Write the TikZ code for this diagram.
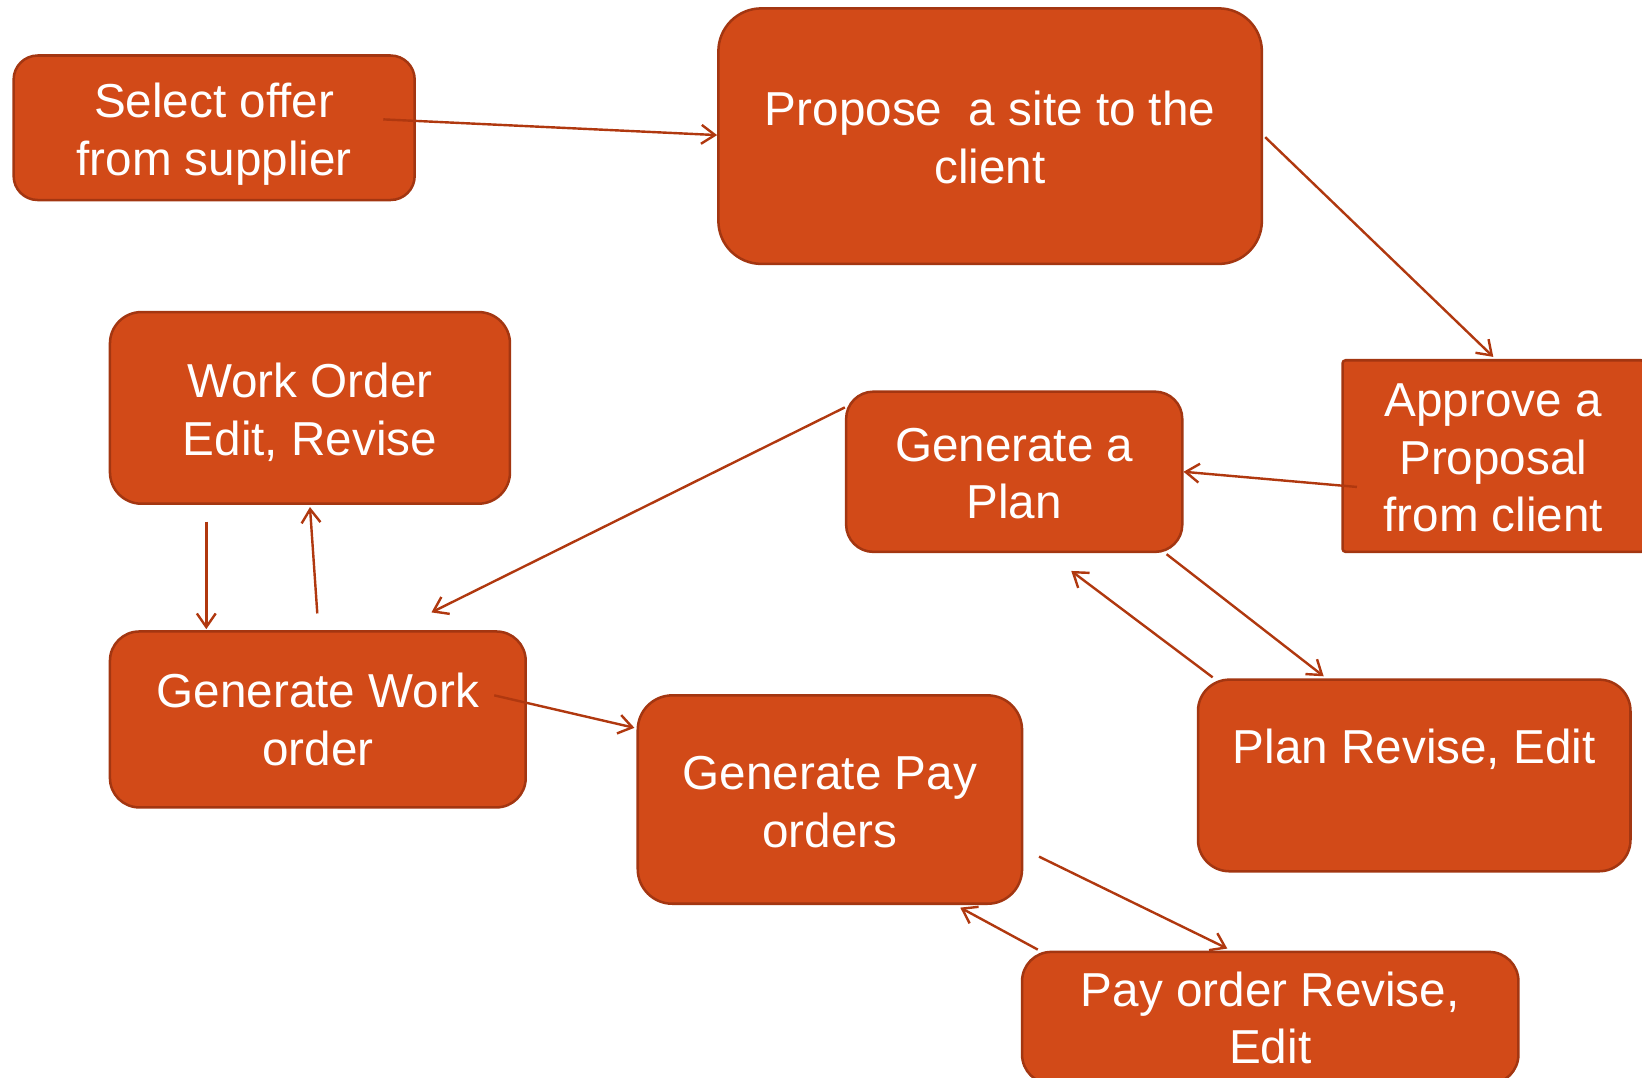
\documentclass[tikz,border=0pt]{standalone}
\usepackage{fontspec}
\setmainfont{Liberation Sans}
\usetikzlibrary{arrows.meta}
\definecolor{boxfill}{HTML}{D24A18}
\definecolor{boxline}{HTML}{A33611}
\definecolor{arrline}{HTML}{B0380F}
\tikzset{
  stepbox/.style={draw=boxline, line width=2.4pt, fill=boxfill, text=white,
    inner sep=0pt, align=center, font=\fontsize{45.5}{55}\selectfont},
  arr/.style={draw=arrline, line width=2.3pt,
    -{Straight Barb[length=13pt,width=18pt,line width=2.3pt]}}
}
\begin{document}
\begin{tikzpicture}[x=1pt,y=-1pt]
\useasboundingbox (0,0) rectangle (1568,1029);
\node[stepbox, rounded corners=23pt, minimum width=383pt, minimum height=138pt] (sel) at (204.5,122) {\rule{0pt}{45pt}Select offer\\from supplier};
\node[stepbox, rounded corners=41pt, minimum width=519pt, minimum height=244pt] (prop) at (945.5,130) {\rule{0pt}{35pt}Propose\ \ a site to the\\client};
\node[stepbox, rounded corners=3pt, minimum width=288pt, minimum height=183pt] (appr) at (1426,435.5) {\rule{0pt}{35pt}Approve a\\Proposal\\from client};
\node[stepbox, rounded corners=30pt, minimum width=382pt, minimum height=183pt] (woe) at (296,389.5) {\rule{0pt}{41pt}Work Order\\Edit, Revise};
\node[stepbox, rounded corners=26pt, minimum width=321pt, minimum height=153pt] (plan) at (968.5,450.5) {\rule{0pt}{35pt}Generate a\\Plan};
\node[stepbox, rounded corners=28pt, minimum width=397pt, minimum height=168pt] (gw) at (303.5,687) {Generate Work\\order};
\node[stepbox, rounded corners=33pt, minimum width=367pt, minimum height=199pt] (po) at (792.5,763.5) {\rule{0pt}{37pt}Generate Pay\\orders};
\node[stepbox, rounded corners=30pt, minimum width=413pt, minimum height=183pt] (pr) at (1350.5,740.5) {Plan Revise, Edit\\\mbox{}};
\node[stepbox, rounded corners=28pt, minimum width=474pt, minimum height=126pt] (por) at (1213,972) {Pay order Revise,\\Edit};

\draw[arr] ([xshift=161.5pt,yshift=8pt]sel.center) -- ([yshift=1pt]prop.west);
\draw[arr] ([xshift=2pt,yshift=-1pt]prop.east) -- ([yshift=2pt]appr.north);
\draw[arr] ([xshift=15pt,yshift=-29.5pt]appr.west) -- (plan.east);
\draw[arr] ([yshift=61.5pt]plan.west) -- ([xshift=108.5pt,yshift=17pt]gw.north);
\draw[arr] ([xshift=145.5pt,yshift=-1pt]plan.south) -- ([xshift=-86.5pt,yshift=2pt]pr.north);
\draw[arr] ([xshift=-192.5pt,yshift=1pt]pr.north) -- ([xshift=54.5pt,yshift=-17pt]plan.south);
\draw[arr] ([xshift=-99pt,yshift=-16pt]woe.south) -- ([xshift=-106.5pt,yshift=1pt]gw.north);
\draw[arr] ([xshift=-0.5pt,yshift=16pt]gw.north) -- ([yshift=-2pt]woe.south);
\draw[arr] ([xshift=168.5pt,yshift=23pt]gw.center) -- ([xshift=-2pt,yshift=68.5pt]po.west);
\draw[arr] ([xshift=15pt,yshift=-54.5pt]po.east) -- ([xshift=-41pt,yshift=2pt]por.north);
\draw[arr] ([xshift=-222pt,yshift=1pt]por.north) -- ([xshift=124.5pt,yshift=-2.5pt]po.south);
\end{tikzpicture}
\end{document}
